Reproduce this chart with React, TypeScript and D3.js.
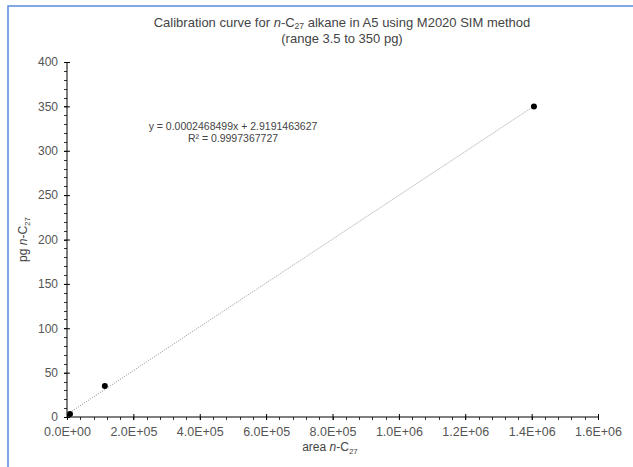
import React, { useEffect, useRef } from 'react';
import * as d3 from 'd3';

// calibration points: peak area vs amount injected
const areas = [9000, 114000, 1407000];
const amounts = [3.5, 35, 350];

// trendline reported on the chart
const slope = 0.0002468499;
const intercept = 2.9191463627;
const r2Text = '0.9997367727';

const xTicks = [0, 2e5, 4e5, 6e5, 8e5, 1e6, 1.2e6, 1.4e6, 1.6e6];
const yTicks = [0, 50, 100, 150, 200, 250, 300, 350, 400];

const App = () => {
  const svgRef = useRef<SVGSVGElement>(null);

  const width = 633;
  const height = 467;
  const margin = { top: 62, right: 35, bottom: 50, left: 67 };
  const font = 'Liberation Sans, Arial, Helvetica, sans-serif';

  useEffect(() => {
    const svg = d3.select(svgRef.current);
    svg.selectAll('*').remove();

    const x = d3.scaleLinear().domain([0, 1.6e6]).range([margin.left, width - margin.right]);
    const y = d3.scaleLinear().domain([0, 400]).range([height - margin.bottom, margin.top]);

    // outer frame (clipped at right/bottom like the source)
    svg
      .append('path')
      .attr('d', `M8,${height} L8,6 L${width},6`)
      .attr('fill', 'none')
      .attr('stroke', '#5b8bd9')
      .attr('stroke-width', 1.5);

    // title, two separate lines
    const t1 = svg
      .append('text')
      .attr('x', 342)
      .attr('y', 27)
      .attr('text-anchor', 'middle')
      .style('font-family', font)
      .style('font-size', '13px')
      .style('fill', '#444');
    t1.append('tspan').text('Calibration curve for ');
    t1.append('tspan').style('font-style', 'italic').text('n');
    t1.append('tspan').text('-C');
    t1.append('tspan').attr('dy', 1.5).style('font-size', '8.5px').text('27');
    t1.append('tspan').attr('dy', -1.5).text(' alkane in A5 using M2020 SIM method');
    svg
      .append('text')
      .attr('x', 342)
      .attr('y', 43)
      .attr('text-anchor', 'middle')
      .style('font-family', font)
      .style('font-size', '13px')
      .style('fill', '#444')
      .text('(range 3.5 to 350 pg)');

    // minor ticks (outside only)
    const xMinor = d3.range(0, 1.6e6 + 1, 4e4);
    svg
      .append('g')
      .selectAll('line')
      .data(xMinor)
      .enter()
      .append('line')
      .attr('x1', (d) => Math.round(x(d)) + 0.5)
      .attr('x2', (d) => Math.round(x(d)) + 0.5)
      .attr('y1', y(0))
      .attr('y2', y(0) + 3)
      .attr('stroke', '#000')
      .attr('stroke-width', 0.8);

    const yMinor = d3.range(0, 401, 10);
    svg
      .append('g')
      .selectAll('line')
      .data(yMinor)
      .enter()
      .append('line')
      .attr('x1', x(0) - 3)
      .attr('x2', x(0))
      .attr('y1', (d) => Math.round(y(d)) + 0.5)
      .attr('y2', (d) => Math.round(y(d)) + 0.5)
      .attr('stroke', '#000')
      .attr('stroke-width', 0.8);

    // x axis
    const xAxis = svg
      .append('g')
      .attr('transform', `translate(0, ${y(0)})`)
      .call(
        d3
          .axisBottom(x)
          .tickValues(xTicks)
          .tickSize(4)
          .tickFormat((d) => {
            const s = (d as number).toExponential(1).toUpperCase();
            return s.replace(/E([+-])(\d)$/, 'E$10$2');
          })
      );
    xAxis.select('.domain').attr('stroke', '#000').attr('d', `M${x(0)},0H${x(1.6e6)}`);
    xAxis.selectAll('.tick line').attr('y1', -3).attr('y2', 3);
    xAxis
      .selectAll('text')
      .attr('y', 10)
      .style('font-family', font)
      .style('font-size', '12.5px')
      .style('fill', '#555');

    // y axis
    const yAxis = svg
      .append('g')
      .attr('transform', `translate(${x(0)}, 0)`)
      .call(d3.axisLeft(y).tickValues(yTicks).tickSize(4));
    yAxis.select('.domain').attr('stroke', '#000').attr('d', `M0,${y(0)}V${y(400)}`);
    yAxis.selectAll('.tick line').attr('x1', -3).attr('x2', 3);
    yAxis
      .selectAll('text')
      .attr('x', -9)
      .style('font-family', font)
      .style('font-size', '12px')
      .style('fill', '#555');

    // axis titles
    const xt = svg
      .append('text')
      .attr('x', 330)
      .attr('y', 451)
      .attr('text-anchor', 'middle')
      .style('font-family', font)
      .style('font-size', '12px')
      .style('fill', '#444');
    xt.append('tspan').text('area ');
    xt.append('tspan').style('font-style', 'italic').text('n');
    xt.append('tspan').text('-C');
    xt.append('tspan').attr('dy', 2.5).style('font-size', '8px').text('27');

    const yt = svg
      .append('text')
      .attr('transform', `translate(27, ${(y(0) + y(400)) / 2}) rotate(-90)`)
      .attr('text-anchor', 'middle')
      .style('font-family', font)
      .style('font-size', '12px')
      .style('fill', '#444');
    yt.append('tspan').text('pg ');
    yt.append('tspan').style('font-style', 'italic').text('n');
    yt.append('tspan').text('-C');
    yt.append('tspan').attr('dy', 2.5).style('font-size', '8px').text('27');

    // trendline over data range
    const xExt = d3.extent(areas) as [number, number];
    svg
      .append('line')
      .attr('x1', x(xExt[0]))
      .attr('y1', y(slope * xExt[0] + intercept))
      .attr('x2', x(xExt[1]))
      .attr('y2', y(slope * xExt[1] + intercept))
      .attr('stroke', '#888')
      .attr('stroke-width', 0.8)
      .attr('stroke-dasharray', '1.2,1.2');

    // points
    svg
      .append('g')
      .selectAll('circle')
      .data(areas.map((a, i) => [a, amounts[i]]))
      .enter()
      .append('circle')
      .attr('cx', (d) => x(d[0]))
      .attr('cy', (d) => y(d[1]))
      .attr('r', 3)
      .attr('fill', '#000');

    // equation
    const eqStyle = (sel: any) =>
      sel
        .attr('text-anchor', 'middle')
        .style('font-family', font)
        .style('font-size', '10.5px')
        .style('fill', '#444');
    svg.append('text').call(eqStyle).attr('x', 233).attr('y', 130).text(`y = ${slope}x + ${intercept}`);
    svg.append('text').call(eqStyle).attr('x', 233).attr('y', 142).text(`R² = ${r2Text}`);
  }, []);

  return (
    <svg
      ref={svgRef}
      width={width}
      height={height}
      style={{ position: 'absolute', left: 0, top: 0, background: '#fff' }}
    ></svg>
  );
};

export default App;
